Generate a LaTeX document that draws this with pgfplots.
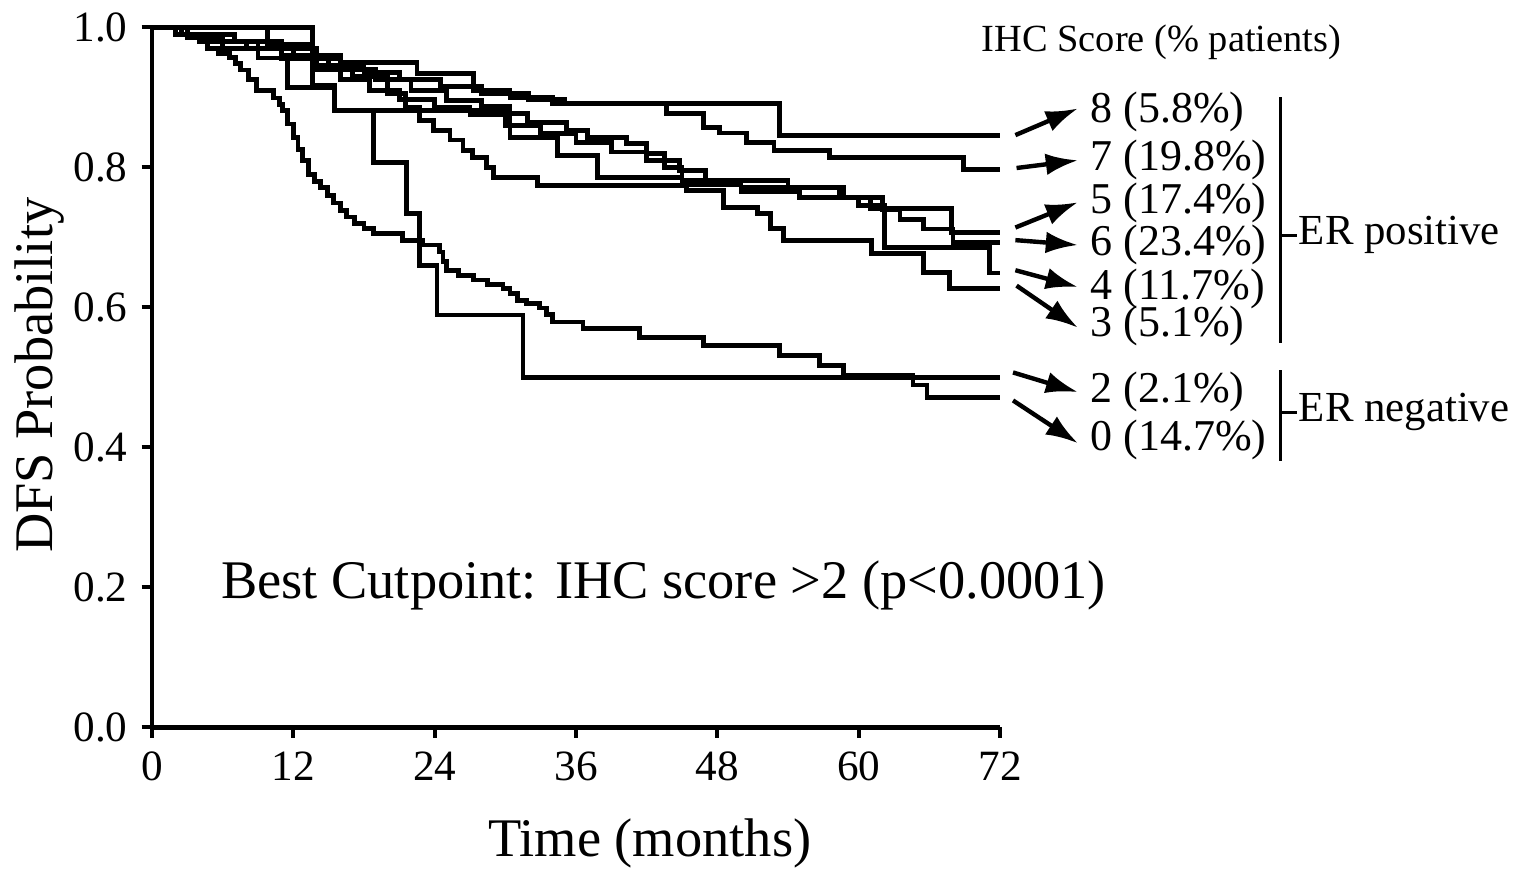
\documentclass[border=0pt]{standalone}
\usepackage{fontspec}
\setmainfont{Liberation Serif}
\usepackage{pgfplots}
\pgfplotsset{compat=1.18}
\usetikzlibrary{arrows.meta}

\begin{document}
\begin{tikzpicture}
\begin{axis}[
  scale only axis, width=212pt, height=175pt,
  xmin=0, xmax=72, ymin=0, ymax=1,
  axis x line*=bottom, axis y line*=left,
  axis line style={line width=1.1pt,-},
  tick align=outside, major tick length=2.6pt,
  tick style={line width=1pt,black},
  xtick={0,12,...,72}, ytick={0,0.2,0.4,0.6,0.8,1.0},
  yticklabel style={/pgf/number format/.cd,fixed,fixed zerofill,precision=1},
  /pgf/number format/assume math mode=true,
  ticklabel style={font=\fontsize{10.8}{12}\selectfont},
  clip=false,
  xlabel={Time (months)}, ylabel={DFS Probability},
  label style={font=\fontsize{13.6}{16}\selectfont},
  x label style={at={(axis description cs:0.587,-0.166)}, anchor=center},
  y label style={at={(axis description cs:-0.132,0.503)}, anchor=center, rotate=0},
  every axis plot post/.append style={const plot, black, solid, line width=1.2pt, mark=none},
]
% IHC 8
\addplot coordinates {(0,1)(9.8,0.975)(13.6,0.96)(16,0.95)(22.5,0.934)(27.3,0.91)(30.4,0.90)(34,0.891)(53.3,0.846)(72,0.846)};
% IHC 7
\addplot coordinates {(0,1)(2,0.99)(5,0.98)(9,0.97)(12,0.96)(15,0.945)(18,0.935)(21,0.925)(24.5,0.915)(28,0.905)(32,0.897)(35,0.891)(43.7,0.877)(46.8,0.857)(48.2,0.849)(50.5,0.836)(52.8,0.824)(57.5,0.814)(68.9,0.797)(72,0.797)};
% IHC 5
\addplot coordinates {(0,1)(3,0.99)(7,0.98)(11,0.97)(14,0.955)(16,0.94)(19,0.925)(22,0.91)(25,0.895)(28,0.887)(30.4,0.877)(31.9,0.864)(35.2,0.853)(37,0.843)(40.3,0.834)(42,0.82)(43.5,0.80)(45,0.781)(54,0.771)(58.4,0.757)(61,0.741)(67.9,0.707)(72,0.707)};
% IHC 6
\addplot coordinates {(0,1)(2,0.99)(5,0.98)(8,0.97)(11,0.955)(14,0.94)(16,0.925)(18.5,0.91)(21,0.897)(24,0.885)(27,0.875)(30,0.86)(33,0.848)(36,0.836)(39,0.822)(42,0.81)(44.8,0.795)(47,0.781)(50,0.771)(58.7,0.757)(62,0.74)(63.5,0.725)(65.5,0.712)(68,0.693)(72,0.693)};
% IHC 4
\addplot coordinates {(0,1)(3,0.985)(6,0.97)(9,0.956)(11.5,0.914)(15.5,0.881)(30.4,0.843)(34.4,0.817)(37.8,0.786)(45,0.776)(50,0.766)(55,0.757)(60,0.745)(62.2,0.686)(71.1,0.649)(72,0.649)};
% IHC 3
\addplot coordinates {(0,1)(2,0.99)(5,0.98)(8,0.97)(11,0.96)(14,0.945)(17,0.93)(20,0.905)(21.5,0.885)(22.7,0.867)(23.9,0.853)(25.3,0.839)(26.4,0.824)(27.2,0.814)(28.4,0.80)(29,0.786)(32.7,0.774)(45.4,0.767)(48.5,0.743)(51.4,0.734)(52.5,0.713)(53.6,0.696)(61.1,0.677)(65.5,0.65)(67.7,0.627)(72,0.627)};
% IHC 2
\addplot coordinates {(0,1)(13.6,0.917)(15.5,0.881)(18.8,0.807)(21.6,0.734)(22.7,0.66)(24.2,0.589)(31.5,0.50)(72,0.50)};
% IHC 0
\addplot coordinates {(0,1)(2.5,0.99)(4,0.98)(4.7,0.97)(5.6,0.963)(6.6,0.957)(7.1,0.948)(7.5,0.939)(8.2,0.925)(8.9,0.91)(10.3,0.899)(10.8,0.89)(11.1,0.881)(11.5,0.862)(12,0.843)(12.4,0.826)(12.8,0.81)(13.3,0.79)(13.8,0.78)(14.3,0.771)(14.9,0.76)(15.4,0.749)(16,0.738)(16.5,0.729)(17.2,0.72)(18,0.713)(18.8,0.706)(21.3,0.696)(23,0.689)(24.4,0.679)(24.7,0.665)(25,0.653)(26,0.646)(27.3,0.639)(28.5,0.633)(29.8,0.627)(30.4,0.62)(31,0.61)(31.8,0.605)(32.9,0.599)(33.5,0.59)(34,0.579)(36.6,0.570)(41.4,0.557)(46.8,0.546)(53.3,0.531)(56.7,0.517)(58.7,0.503)(64.6,0.489)(65.8,0.471)(72,0.471)};

\node[anchor=west, inner sep=0, font=\fontsize{13.6}{16}\selectfont] at (axis cs:5.8,0.203) {Best Cutpoint: IHC score >2 (p<0.0001)};

\node[anchor=center, inner sep=0, font=\fontsize{9.6}{11}\selectfont] at (axis cs:85.7,0.979) {IHC Score (\% patients)};

\begin{scope}[line width=1.1pt, -{Latex[length=8pt,width=5.4pt]}]
\draw (axis cs:73.3,0.846) -- (axis cs:78.6,0.884);
\draw (axis cs:73.4,0.799) -- (axis cs:78.6,0.810);
\draw (axis cs:73.3,0.714) -- (axis cs:78.6,0.750);
\draw (axis cs:73.3,0.696) -- (axis cs:78.6,0.689);
\draw (axis cs:73.3,0.653) -- (axis cs:78.6,0.629);
\draw (axis cs:73.4,0.631) -- (axis cs:78.6,0.571);
\draw (axis cs:73.1,0.507) -- (axis cs:78.6,0.479);
\draw (axis cs:73.1,0.467) -- (axis cs:78.6,0.406);
\end{scope}

\begin{scope}[every node/.style={anchor=west, inner sep=0, font=\fontsize{11}{13}\selectfont}]
\node at (axis cs:79.6,0.879) {8 (5.8\%)};
\node at (axis cs:79.6,0.810) {7 (19.8\%)};
\node at (axis cs:79.6,0.749) {5 (17.4\%)};
\node at (axis cs:79.6,0.689) {6 (23.4\%)};
\node at (axis cs:79.6,0.627) {4 (11.7\%)};
\node at (axis cs:79.6,0.573) {3 (5.1\%)};
\node at (axis cs:79.6,0.479) {2 (2.1\%)};
\node at (axis cs:79.6,0.410) {0 (14.7\%)};
\end{scope}

\draw[line width=0.8pt] (axis cs:95.8,0.900) -- (axis cs:95.8,0.549);
\draw[line width=0.8pt] (axis cs:95.8,0.703) -- (axis cs:97.2,0.703);
\draw[line width=0.8pt] (axis cs:95.8,0.510) -- (axis cs:95.8,0.381);
\draw[line width=0.8pt] (axis cs:95.8,0.450) -- (axis cs:97.2,0.450);
\node[anchor=west, inner sep=0, font=\fontsize{10.7}{13}\selectfont] at (axis cs:97.3,0.703) {ER positive};
\node[anchor=west, inner sep=0, font=\fontsize{10.7}{13}\selectfont] at (axis cs:97.3,0.450) {ER negative};

\coordinate (bbSW) at (axis cs:-12.9,-0.204);
\coordinate (bbNE) at (axis cs:115.8,1.039);
\end{axis}
\pgfresetboundingbox
\useasboundingbox (bbSW) rectangle (bbNE);
\end{tikzpicture}
\end{document}
